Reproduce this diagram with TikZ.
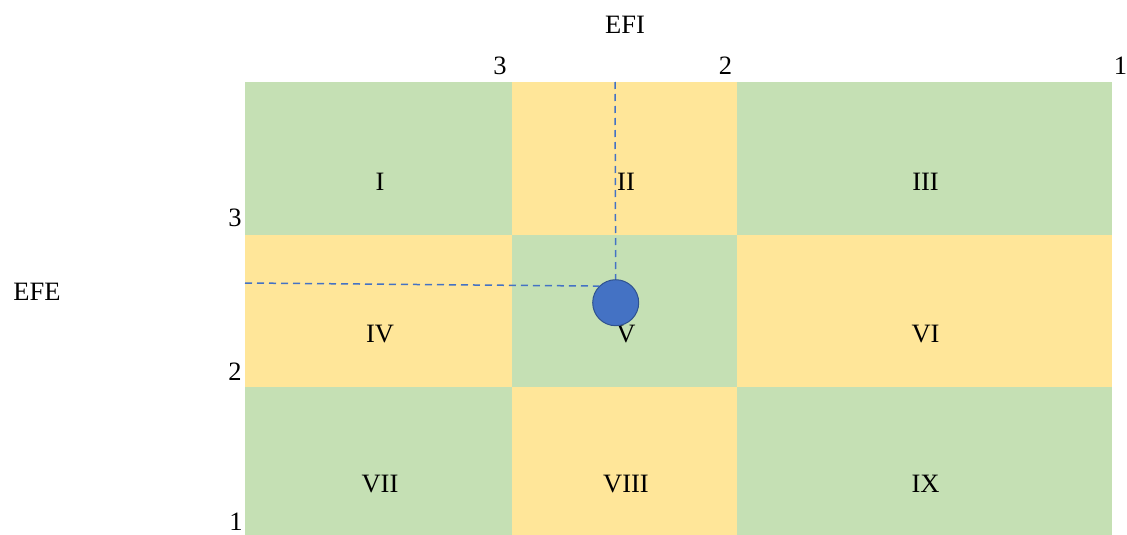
\documentclass[tikz,border=0pt]{standalone}
\usepackage{fontspec}
\setmainfont{Liberation Serif}
\usetikzlibrary{positioning}

\definecolor{cellgreen}{HTML}{C5E0B4}
\definecolor{cellyellow}{HTML}{FFE699}
\definecolor{dotblue}{HTML}{4472C4}
\definecolor{dotedge}{HTML}{2F528F}

\tikzstyle{cell} = [rectangle, inner sep=0pt, outer sep=0pt, line width=0.4pt]
\tikzstyle{green} = [cell, fill=cellgreen, draw=cellgreen]
\tikzstyle{yellow} = [cell, fill=cellyellow, draw=cellyellow]
\tikzstyle{txt} = [inner sep=0pt, font=\fontsize{26.5}{30}\selectfont]
\tikzstyle{guide} = [dotblue, line width=1.5pt, dash pattern=on 7pt off 5pt]
\tikzstyle{dot} = [circle, fill=dotblue, draw=dotedge, line width=1pt, minimum size=46pt, inner sep=0pt]

\begin{document}
\begin{tikzpicture}[x=1pt, y=-1pt]
\useasboundingbox (0,0) rectangle (1127,535);

% matrix cells
\node[green,  minimum width=266.6pt, minimum height=152.6pt] (c1) at (378.5,158.5) {};
\node[yellow, minimum width=224.6pt, minimum height=152.6pt] (c2) at (624.5,158.5) {};
\node[green,  minimum width=373.6pt, minimum height=152.6pt] (c3) at (924,158.5) {};
\node[yellow, minimum width=266.6pt, minimum height=151.6pt] (c4) at (378.5,311) {};
\node[green,  minimum width=224.6pt, minimum height=151.6pt] (c5) at (624.5,311) {};
\node[yellow, minimum width=373.6pt, minimum height=151.6pt] (c6) at (924,311) {};
\node[green,  minimum width=266.6pt, minimum height=147.6pt] (c7) at (378.5,461) {};
\node[yellow, minimum width=224.6pt, minimum height=147.6pt] (c8) at (624.5,461) {};
\node[green,  minimum width=373.6pt, minimum height=147.6pt] (c9) at (924,461) {};

% quadrant numbers
\foreach \c/\t in {c1/I, c2/II, c3/III, c4/IV, c5/V, c6/VI, c7/VII, c8/VIII, c9/IX}
    \node[txt] (l\c) at ([xshift=1.5pt, yshift=-23pt]\c.center) {\t};

% axes
\node[txt] (efi) at (625,25) {EFI};
\node[txt] (efe) at (37,292) {EFE};
\node[txt] (x3) at (500,65.5) {3};
\node[txt] (x2) at (725.5,65.5) {2};
\node[txt] (x1) at (1120.5,66) {1};
\node[txt] (y3) at (235,217.5) {3};
\node[txt] (y2) at (235,371.5) {2};
\node[txt] (y1) at (236,521.5) {1};

% position
\node[dot] (pos) at (615.7,302.7) {};
\coordinate (topend) at (615,82);
\coordinate (leftend) at (245,283);
\draw[guide] (topend) -- (pos.north);
\draw[guide] (leftend) -- (pos.135);
\end{tikzpicture}
\end{document}
